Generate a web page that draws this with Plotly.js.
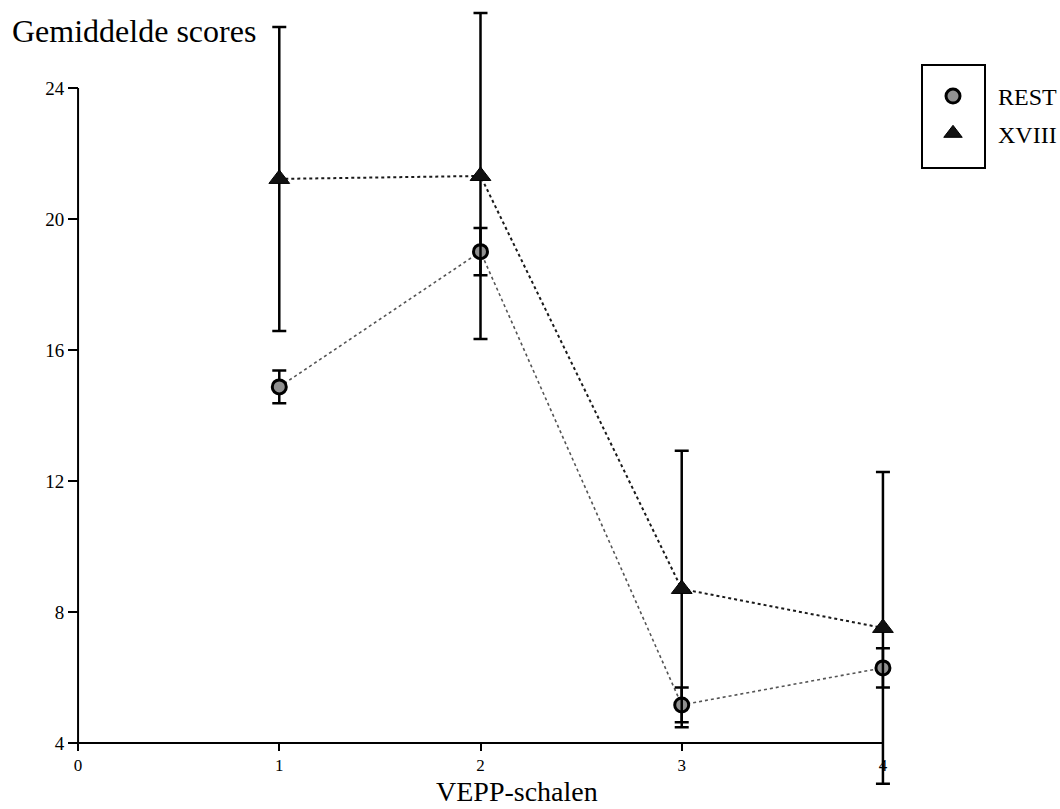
<!DOCTYPE html>
<html>
<head>
<meta charset="utf-8">
<script src="https://cdn.plot.ly/plotly-3.0.1.min.js"></script>
<style>html,body{margin:0;padding:0;background:#fff;}#chart{width:1060px;height:809px;}</style>
</head>
<body>
<div id="chart"></div>
<script>
// Data
const scales = [1, 2, 3, 4];
const restMeans = [14.87, 19.0, 5.16, 6.29];
const restErr = [0.5, 0.72, 0.53, 0.6];
const xviiiMeans = [21.22, 21.31, 8.70, 7.51];
const xviiiErr = [4.64, 4.98, 4.22, 4.76];
const seriesNames = ['REST', 'XVIII'];
const yTicks = [4, 8, 12, 16, 20, 24];
const xTicks = [0, 1, 2, 3, 4];

const serif = 'Liberation Serif, Times New Roman, serif';

// pixel geometry helpers (layout only)
const L = 68, R = 167, T = 6, B = 17, W = 1060, H = 809;
const pw = W - L - R, ph = H - T - B;
const px2x = p => (p - L) / pw;
const px2y = p => (H - B - p) / ph;

const traces = [
  { x: scales, y: xviiiMeans, mode: 'lines', showlegend: false, hoverinfo: 'skip',
    line: { color: '#1a1a1a', width: 2, dash: 'dot' }, cliponaxis: false },
  { x: scales, y: restMeans, mode: 'lines', showlegend: false, hoverinfo: 'skip',
    line: { color: '#555', width: 1.6, dash: 'dot' }, cliponaxis: false },
  { x: scales, y: restMeans, mode: 'markers', name: seriesNames[0], legendgroup: 'a',
    error_y: { type: 'data', array: restErr, visible: true, color: '#000', thickness: 2.5, width: 7 },
    marker: { symbol: 'circle', size: 14, color: '#909090', line: { color: '#000', width: 3 } },
    cliponaxis: false },
  { x: scales, y: xviiiMeans, mode: 'markers', name: seriesNames[1], legendgroup: 'b',
    error_y: { type: 'data', array: xviiiErr, visible: true, color: '#000', thickness: 2.5, width: 7 },
    marker: { symbol: 'triangle-up', size: 18, color: '#111', line: { color: '#000', width: 1 } },
    cliponaxis: false }
];

const layout = {
  width: W, height: H,
  paper_bgcolor: '#fff', plot_bgcolor: '#fff',
  margin: { l: L, r: R, t: T, b: B, autoexpand: false },
  font: { family: serif, color: '#000' },
  title: { text: 'Gemiddelde scores', font: { family: serif, size: 32, color: '#000' },
    xref: 'container', yref: 'container', x: 12/1060, xanchor: 'left', y: 1 - 31/809, yanchor: 'middle' },
  xaxis: {
    range: [-0.05, 4.05], tickvals: xTicks, ticktext: xTicks.map(String),
    anchor: 'free', position: 1.5 / 24,
    showgrid: false, zeroline: false, showline: false,
    ticks: 'outside', ticklen: 7, tickwidth: 2, tickcolor: '#000',
    tickfont: { family: serif, size: 17, color: '#000' },
    automargin: false
  },
  yaxis: {
    range: [2.5, 26.5], tickvals: yTicks, ticktext: yTicks.map(String),
    anchor: 'free', position: 0.05 / 4.1,
    showgrid: false, zeroline: false, showline: false,
    ticks: 'outside', ticklen: 10, tickwidth: 2, tickcolor: '#000',
    tickfont: { family: serif, size: 19, color: '#000' },
    automargin: false
  },
  showlegend: true,
  legend: {
    x: px2x(908), xanchor: 'left', y: px2y(74), yanchor: 'top',
    traceorder: 'grouped', tracegroupgap: 3, bgcolor: 'rgba(0,0,0,0)', borderwidth: 0,
    font: { family: serif, size: 24, color: '#000' }, itemwidth: 80
  },
  annotations: [
    { text: 'VEPP-schalen', xref: 'paper', yref: 'paper', x: px2x(517), y: px2y(809),
      xanchor: 'center', yanchor: 'bottom', showarrow: false,
      font: { family: serif, size: 28, color: '#000' } }
  ],
  shapes: [
    { type: 'line', xref: 'x', yref: 'y', x0: 0, x1: 0, y0: 4, y1: 24, line: { color: '#000', width: 2 } },
    { type: 'line', xref: 'x', yref: 'y', x0: 0, x1: 4, y0: 4, y1: 4, line: { color: '#000', width: 2 } },
    { type: 'rect', xref: 'paper', yref: 'paper',
      x0: px2x(922), x1: px2x(985), y0: px2y(168), y1: px2y(65),
      line: { color: '#000', width: 2 }, fillcolor: 'rgba(0,0,0,0)' }
  ]
};

Plotly.newPlot('chart', traces, layout, { displayModeBar: false, staticPlot: true });
</script>
</body>
</html>
